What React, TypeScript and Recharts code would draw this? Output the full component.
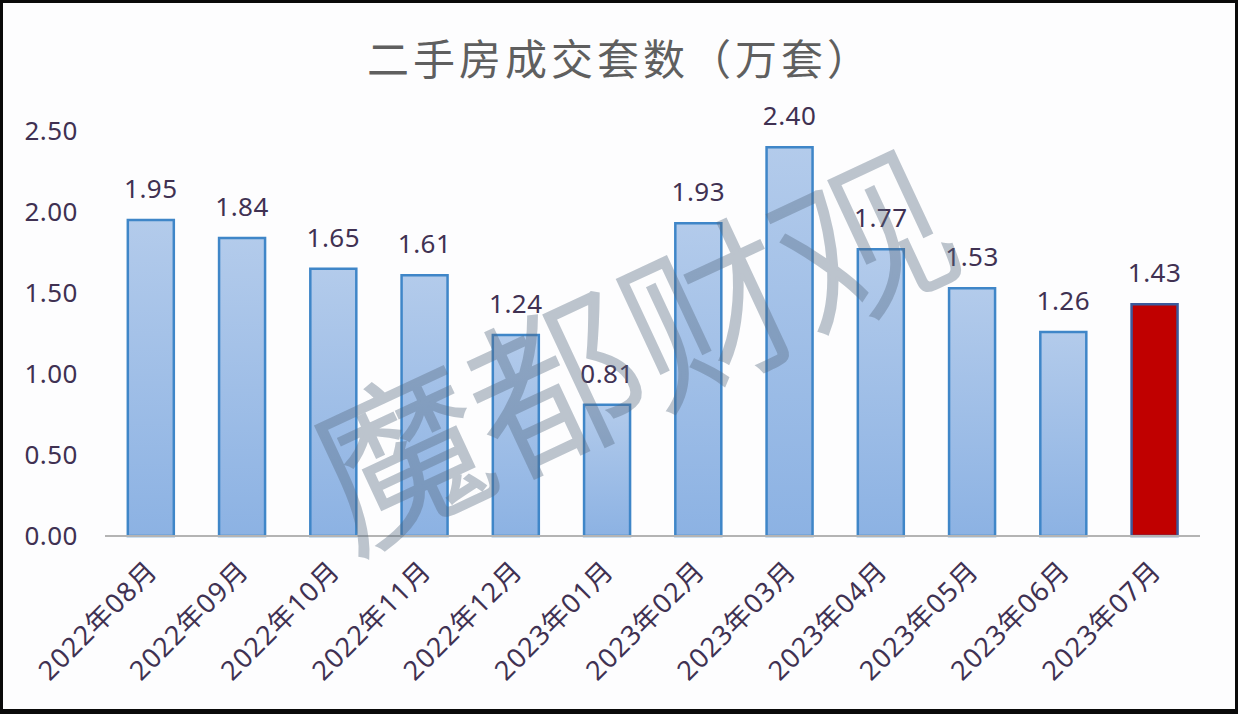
import { Bar, BarChart, Cell, LabelList, XAxis, YAxis } from "recharts"

const MONTHS = [
  "2022年08月", "2022年09月", "2022年10月", "2022年11月", "2022年12月", "2023年01月",
  "2023年02月", "2023年03月", "2023年04月", "2023年05月", "2023年06月", "2023年07月",
]
const DEALS = [1.95, 1.84, 1.65, 1.61, 1.24, 0.81, 1.93, 2.4, 1.77, 1.53, 1.26, 1.43]
const Y_TICKS = [0, 0.5, 1, 1.5, 2, 2.5]
const HIGHLIGHT = "2023年07月"

const FONT = '"Noto Sans", "Noto Sans CJK SC", sans-serif'
const TEXT = "#403152"

const rows = MONTHS.map((month, i) => ({ month, deals: DEALS[i] }))

export default function App() {
  return (
    <div style={{ position: "absolute", left: 0, top: 0, width: 1240, height: 714, background: "#fdfdfe", overflow: "hidden", fontFamily: FONT }}>
      <div style={{ position: "absolute", left: 0, top: 33, width: 1240, textAlign: "center", fontSize: 42, lineHeight: "48px", letterSpacing: 4, color: "#5f5f5f", fontFamily: '"Noto Sans CJK SC", sans-serif' }}>
        二手房成交套数（万套）
      </div>
      <BarChart width={1240} height={714} data={rows} margin={{ top: 131, right: 40, bottom: 0, left: 0 }} barCategoryGap="25%" style={{ position: "absolute", left: 0, top: 0 }}>
        <defs>
          <linearGradient id="barFill" x1="0" y1="0" x2="0" y2="1">
            <stop offset="0%" stopColor="#b3cbeb" />
            <stop offset="100%" stopColor="#8cb2e3" />
          </linearGradient>
        </defs>
        <XAxis
          dataKey="month"
          interval={0}
          height={178}
          angle={-45}
          textAnchor="end"
          tickLine={false}
          tickMargin={17}
          axisLine={{ stroke: "#b4b4b4", strokeWidth: 2 }}
          tick={{ fontSize: 27, fill: TEXT, fontFamily: FONT, letterSpacing: 1, dx: -5 }}
        />
        <YAxis
          domain={[0, 2.5]}
          ticks={Y_TICKS}
          width={105}
          axisLine={false}
          tickLine={false}
          tickMargin={21}
          tickFormatter={(v: number) => v.toFixed(2)}
          tick={{ fontSize: 26, fill: TEXT, fontFamily: FONT, letterSpacing: 0.5 }}
        />
        <Bar dataKey="deals" fill="url(#barFill)" stroke="#3f86c8" strokeWidth={2.5} isAnimationActive={false}>
          {rows.map((r) => (
            <Cell key={r.month} fill={r.month === HIGHLIGHT ? "#c00000" : "url(#barFill)"} stroke={r.month === HIGHLIGHT ? "#3b5a9c" : "#3f86c8"} />
          ))}
          <LabelList dataKey="deals" position="top" offset={22} formatter={(v: number) => v.toFixed(2)} style={{ fontSize: 26, fill: TEXT, fontFamily: FONT, letterSpacing: 0.5 }} />
        </Bar>
      </BarChart>
      <div style={{ position: "absolute", left: 268, top: 240, width: 720, textAlign: "center", fontSize: 170, lineHeight: "200px", whiteSpace: "nowrap", color: "#55697f", WebkitTextStroke: "3px #55697f", opacity: 0.38, fontFamily: '"Noto Sans CJK SC", sans-serif', fontWeight: 300, transform: "rotate(-25deg)" }}>
        魔都财观
      </div>
      <div style={{ position: "absolute", left: 0, top: 0, width: 1238, height: 714, boxSizing: "border-box", border: "3px solid #0a0a0a", borderBottomWidth: 5 }} />
    </div>
  )
}
